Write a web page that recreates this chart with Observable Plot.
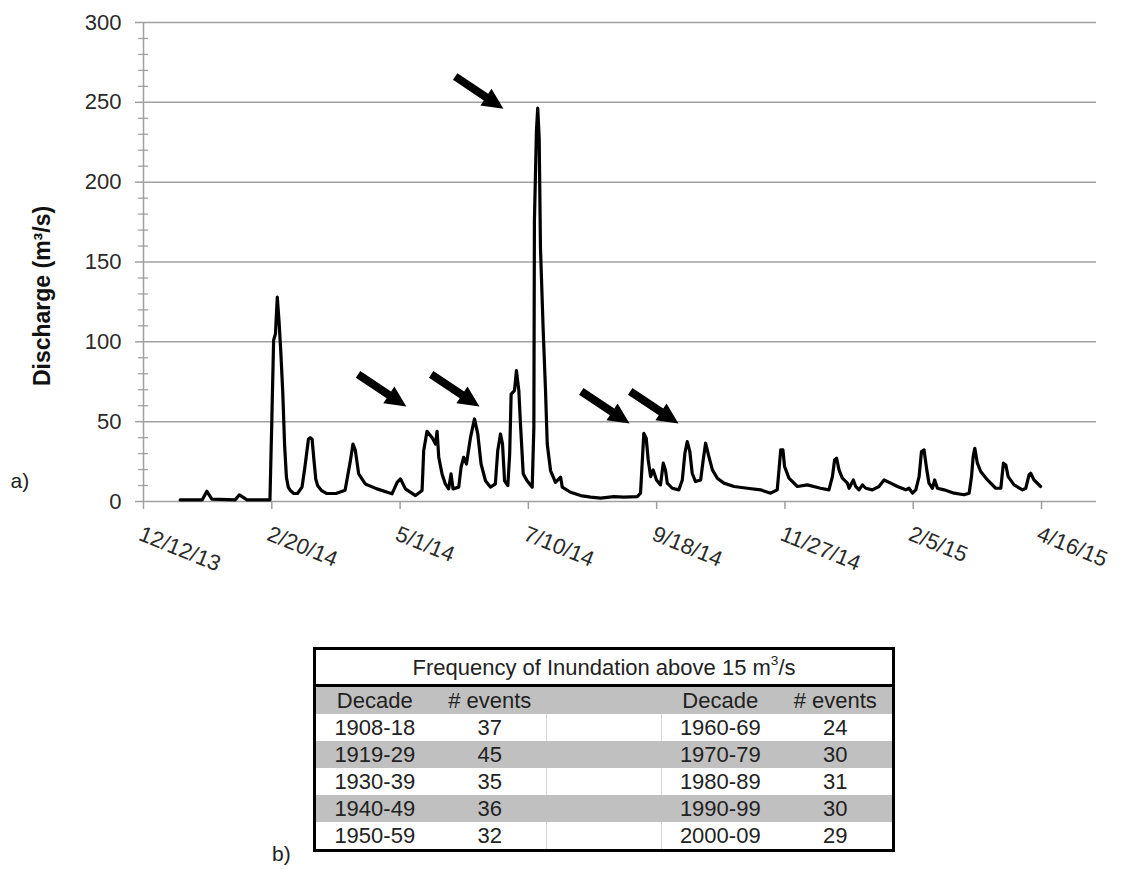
<!DOCTYPE html>
<html>
<head>
<meta charset="utf-8">
<script src="https://cdn.jsdelivr.net/npm/d3@7"></script>
<script src="https://cdn.jsdelivr.net/npm/@observablehq/plot@0.6"></script>
<style>
  body { margin: 0; background: #fff; font-family: "Liberation Sans", Arial, sans-serif; }
  #wrap { position: relative; width: 1122px; height: 869px; overflow: hidden; }
  #chart { position: absolute; left: 0; top: 0; }
  #tbl { position: absolute; left: 313px; top: 647px; border-collapse: collapse; border: 3px solid #000;
         font-size: 22px; color: #222; table-layout: fixed; width: 579px; }
  #tbl td { padding: 0; height: 27px; text-align: center; line-height: 27px; white-space: nowrap; }
  #tbl tr.title td { height: 34px; border-bottom: 3px solid #000; background: #fff; }
  #tbl tr.gray td { background: #c0c0c0; }
  #tbl td.gap { border-left: 1px solid #d4d4d4; border-right: 1px solid #d4d4d4; }
  #tbl tr.gray td.gap { border-color: #c0c0c0; }
  #tbl sup { font-size: 0.62em; line-height: 0; vertical-align: 0.75em; }
  .lab { position: absolute; font-size: 21px; color: #222; }
</style>
</head>
<body>
<div id="wrap">
  <div id="chart"></div>
  <table id="tbl"></table>
  <div class="lab" style="left:272px; top:842px;">b)</div>
</div>
<script>
// ---------- data ----------
const startDate = "2013-12-12"; // day 0 of the record
const dayOffsets = [20, 32, 34.6, 37.3, 50, 52.3, 56.5, 69, 70, 71, 72, 73, 74, 75, 76, 77, 78, 79, 80, 82, 84, 86.5, 88, 90, 91, 92, 93, 94, 95, 97, 100, 105, 110, 112.9, 114.3, 115.6, 117.4, 121, 127.4, 135.6, 138.4, 140.2, 142.9, 148.4, 152, 152.9, 154.7, 157.5, 159.3, 160.2, 161.1, 162.9, 164.7, 166.5, 167.8, 168.9, 172, 173.3, 174.7, 176.2, 178.4, 180.6, 182.4, 184.2, 186.6, 189.3, 192, 193.3, 194.8, 195.9, 197, 198.8, 199.8, 200.6, 202.4, 203.5, 204.8, 205.7, 207.2, 209.3, 212.1, 213, 213.3, 214.4, 215.1, 215.9, 216.6, 218.1, 219.3, 220.3, 222.1, 224.8, 227.6, 228.5, 233, 238.5, 244, 249.4, 256.6, 262.1, 269.4, 271.2, 272.1, 273, 274.3, 275.4, 276.7, 278.1, 279.9, 282.1, 283.6, 284.8, 285.8, 288.5, 292.1, 294, 295.4, 296.7, 298.1, 299.4, 301.2, 304, 305.4, 306.7, 308.5, 310.4, 313.1, 316.7, 322.2, 329.5, 336.7, 342.2, 345.8, 346.9, 347.7, 348.9, 349.8, 352.2, 356.8, 362.2, 369.4, 374, 375.9, 377.1, 378.2, 379.5, 381.3, 384.1, 385, 387.3, 388.6, 390.4, 392.3, 394.1, 397.7, 401.3, 404.1, 407.7, 411.4, 415.9, 417.7, 419.6, 421.4, 423.2, 424.5, 425.9, 427.4, 428.6, 430.5, 431.7, 433.2, 436.8, 442.3, 447.7, 450.5, 451.8, 452.7, 453.6, 455, 456.8, 460.5, 465, 467.8, 469.2, 470.5, 471.8, 475, 479.6, 481.4, 483.2, 484.1, 485.9, 489.5];
const discharge = [1, 1, 6.4, 1.5, 1, 4.2, 1, 1, 50, 101, 105, 128, 112, 92, 68, 35, 15, 9, 7, 5, 5, 9, 21, 39, 40, 39, 26, 14, 10, 7, 5, 5, 7, 25.6, 36, 32, 17.3, 11, 7.9, 4.8, 12, 14.2, 7.9, 3.7, 6.9, 32, 44, 40, 36, 44, 27.7, 17.3, 11, 7.9, 17.3, 7.9, 9, 21.5, 27.7, 23.5, 40, 51.7, 42.3, 23.5, 13, 9, 11, 32, 42.3, 36, 13, 10, 29.8, 67.3, 69.4, 82, 69.4, 48.5, 17.3, 13, 9, 46.4, 175.6, 231.9, 246.4, 227.7, 159, 106.9, 71.4, 36, 19.4, 12, 15.2, 9, 5.8, 3.7, 2.7, 2.1, 3.1, 2.7, 3.1, 5.2, 24, 42.7, 39.6, 26, 15.6, 19.8, 13.5, 10.4, 24, 19.8, 11.5, 8.3, 7.3, 13.5, 30.2, 37.5, 31.3, 17.7, 12.5, 13.5, 26, 36.5, 28.1, 19.8, 14.6, 11.5, 9.4, 8.3, 7.3, 5.2, 7.3, 21.9, 32.3, 32.3, 21.9, 14.6, 9.4, 10.4, 8.3, 7.3, 15.6, 26, 27.1, 19.8, 14.6, 11.5, 8.3, 13.5, 9.4, 7.3, 10.4, 8.3, 7.3, 9.4, 13.5, 11.5, 9.4, 7.3, 8.3, 5.2, 7.3, 15.6, 31.3, 32.3, 19.8, 11.5, 8.3, 13.5, 8.3, 7.3, 5.2, 4.2, 5.2, 15.6, 28.1, 33.3, 24, 18.8, 13.5, 8.3, 8.3, 24, 22.9, 15.6, 10.4, 7.3, 8.3, 16.7, 17.7, 13.5, 9.4];

const xTickLabels = ["12/12/13", "2/20/14", "5/1/14", "7/10/14", "9/18/14", "11/27/14", "2/5/15", "4/16/15"];
const xEndDay = 520; // axis extends past the last labelled tick
const yMajorTicks = [0, 50, 100, 150, 200, 250, 300];
const yMinorTicks = [10, 20, 30, 40, 60, 70, 80, 90, 110, 120, 130, 140, 160, 170, 180, 190, 210, 220, 230, 240, 260, 270, 280, 290];
const yTitle = "Discharge (m³/s)";
const panelA = "a)";

// annotation arrows: tip positions (day offset, discharge)
const arrowTipDays = [196.4, 143.4, 183.3, 265.2, 291.9];
const arrowTipValues = [246, 59.5, 59.5, 48.8, 48.8];

// table b)
const tableTitle = "Frequency of Inundation above 15 m<sup>3</sup>/s";
const tableHeaders = ["Decade", "# events", "", "Decade", "# events"];
const decadesLeft = ["1908-18", "1919-29", "1930-39", "1940-49", "1950-59"];
const eventsLeft = [37, 45, 35, 36, 32];
const decadesRight = ["1960-69", "1970-79", "1980-89", "1990-99", "2000-09"];
const eventsRight = [24, 30, 31, 30, 29];

// ---------- build ----------
const day0 = Date.parse(startDate + "T00:00:00Z");
const toDate = d => new Date(day0 + d * 864e5);
const parseMDY = s => { const [m, d, y] = s.split("/").map(Number); return new Date(Date.UTC(2000 + y, m - 1, d)); };
const xTicks = xTickLabels.map(parseMDY);
const series = dayOffsets.map((d, i) => ({date: toDate(d), q: discharge[i]}));
const arrows = arrowTipDays.map((d, i) => ({date: toDate(d), q: arrowTipValues[i]}));

// filled arrow shape, tip at origin, pointing along +x
const arrowShape = {
  draw(ctx) {
    ctx.moveTo(0, 0);
    ctx.lineTo(-21, -10);
    ctx.lineTo(-21, -4);
    ctx.lineTo(-58, -4);
    ctx.lineTo(-58, 4);
    ctx.lineTo(-21, 4);
    ctx.lineTo(-21, 10);
    ctx.closePath();
  }
};

const W = 1122, H = 600, mL = 143, mR = 26, mT = 22, mB = 99;
const gridColor = "#a0a0a0";
const font = "'Liberation Sans', Arial, sans-serif";

const chart = Plot.plot({
  width: W, height: H,
  marginLeft: mL, marginRight: mR, marginTop: mT, marginBottom: mB,
  style: {fontFamily: font, background: "white", overflow: "visible"},
  x: {type: "utc", domain: [toDate(0), toDate(xEndDay)]},
  y: {domain: [0, 300]},
  marks: [
    Plot.ruleY(yMajorTicks, {stroke: gridColor, strokeWidth: 1.5}),
    Plot.ruleX([toDate(0)], {stroke: gridColor, strokeWidth: 1.5}),
    Plot.tickY(yMinorTicks, {stroke: gridColor, strokeWidth: 1.3, insetLeft: -5, insetRight: (W - mL - mR) - 5}),
    Plot.axisY(yMajorTicks, {tickSize: 8, tickPadding: 14, fontSize: 22, stroke: gridColor, strokeWidth: 1.5, fill: "#2a2a2a", label: null}),
    Plot.axisX(xTicks, {tickSize: 8, tickFormat: () => "", stroke: gridColor, strokeWidth: 1.5, label: null}),
    Plot.text(xTicks, {x: d => d, frameAnchor: "bottom", text: (d, i) => xTickLabels[i], rotate: 22,
      textAnchor: "start", lineAnchor: "bottom", dx: -6, dy: 38, fontSize: 22, fill: "#2a2a2a"}),
    Plot.text([yTitle], {frameAnchor: "left", text: d => d, rotate: -90, textAnchor: "middle", lineAnchor: "middle",
      dx: -101, dy: 34, fontSize: 23, fontWeight: "bold", fill: "#111"}),
    Plot.text([panelA], {frameAnchor: "bottom-left", text: d => d, textAnchor: "start", dx: -133, dy: -14,
      fontSize: 21, fill: "#222"}),
    Plot.line(series, {x: "date", y: "q", stroke: "black", strokeWidth: 3.2, strokeLinejoin: "round"}),
    Plot.dot(arrows, {x: "date", y: "q", symbol: arrowShape, rotate: 33.7, fill: "black", stroke: "none"})
  ]
});
document.getElementById("chart").appendChild(chart);

// table
const tbl = document.getElementById("tbl");
const widths = [119, 113, 115, 117, 115];
let html = "<colgroup>" + widths.map(w => `<col style="width:${w}px">`).join("") + "</colgroup>";
html += `<tr class="title"><td colspan="5">${tableTitle}</td></tr>`;
html += `<tr class="gray">` + tableHeaders.map((h, j) => `<td${j === 2 ? ' class="gap"' : ''}>${h}</td>`).join("") + "</tr>";
decadesLeft.forEach((d, i) => {
  const cls = i % 2 === 1 ? ' class="gray"' : '';
  html += `<tr${cls}><td>${d}</td><td>${eventsLeft[i]}</td><td class="gap"></td><td>${decadesRight[i]}</td><td>${eventsRight[i]}</td></tr>`;
});
tbl.innerHTML = html;
</script>
</body>
</html>
